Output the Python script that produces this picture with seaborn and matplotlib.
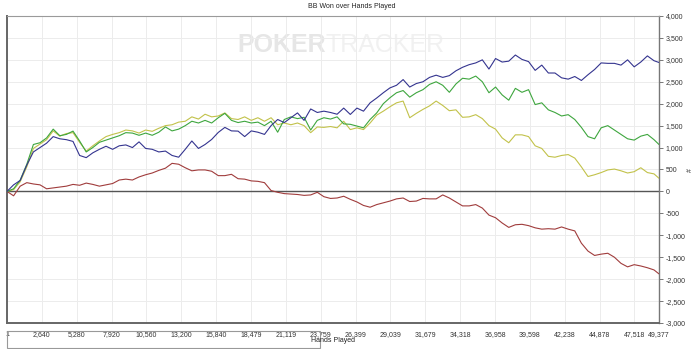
import numpy as np
import pandas as pd
import matplotlib
matplotlib.use("Agg")
import matplotlib.pyplot as plt
import seaborn as sns
from matplotlib.ticker import FixedLocator, FuncFormatter
from matplotlib.patches import Rectangle

hands = [1, 500, 1000, 1500, 2000, 2500, 3000, 3500, 4000, 4500,
         5000, 5500, 6000, 6500, 7000, 7500, 8000, 8500, 9000, 9500,
         10000, 10500, 11000, 11500, 12000, 12500, 13000, 13500, 14000, 14500,
         15000, 15500, 16000, 16500, 17000, 17500, 18000, 18500, 19000, 19500,
         20000, 20500, 21000, 21500, 22000, 22500, 23000, 23500, 24000, 24500,
         25000, 25500, 26000, 26500, 27000, 27500, 28000, 28500, 29000, 29500,
         30000, 30500, 31000, 31500, 32000, 32500, 33000, 33500, 34000, 34500,
         35000, 35500, 36000, 36500, 37000, 37500, 38000, 38500, 39000, 39500,
         40000, 40500, 41000, 41500, 42000, 42500, 43000, 43500, 44000, 44500,
         45000, 45500, 46000, 46500, 47000, 47500, 48000, 48500, 49000, 49377]

blue = [0, 150, 250, 600, 900, 1000, 1100, 1250, 1200, 1180,
        1140, 820, 770, 880, 960, 1030, 960, 1040, 1060, 1000,
        1130, 980, 960, 900, 920, 820, 780, 960, 1150, 980,
        1070, 1185, 1345, 1460, 1380, 1375, 1250, 1380, 1350, 1300,
        1500, 1640, 1570, 1680, 1790, 1620, 1880, 1800, 1830, 1800,
        1760, 1900, 1755, 1900, 1830, 2020, 2130, 2250, 2360, 2420,
        2550, 2380, 2460, 2500, 2600, 2650, 2600, 2640, 2750, 2830,
        2890, 2930, 3000, 2790, 3030, 2950, 2970, 3110, 3010, 2960,
        2760, 2880, 2700, 2700, 2590, 2560, 2620, 2530, 2660, 2780,
        2930, 2920, 2920, 2880, 3000, 2840, 2950, 3090, 2980, 2940]

green = [0, 60, 260, 620, 1070, 1110, 1220, 1420, 1270, 1300,
         1375, 1150, 900, 1000, 1120, 1170, 1220, 1270, 1340, 1330,
         1280, 1330, 1280, 1350, 1470, 1380, 1420, 1500, 1600, 1560,
         1620, 1560, 1680, 1780, 1620, 1570, 1600, 1560, 1580, 1500,
         1600, 1350, 1640, 1700, 1660, 1690, 1400, 1620, 1680, 1650,
         1700, 1540, 1530, 1490, 1450, 1640, 1790, 2000, 2135, 2250,
         2300, 2150, 2250, 2320, 2440, 2500, 2420, 2260, 2450, 2580,
         2560, 2630, 2500, 2250, 2380, 2200, 2080, 2350, 2260, 2320,
         1980, 2020, 1860, 1800, 1720, 1750, 1640, 1460, 1250, 1200,
         1450, 1500, 1400, 1300, 1200, 1170, 1260, 1300, 1180, 1070]

yellow = [0, 40, 220, 560, 980, 1080, 1180, 1380, 1260, 1320,
          1340, 1120, 920, 1040, 1150, 1250, 1300, 1340, 1400, 1380,
          1330, 1400, 1370, 1440, 1500, 1520, 1580, 1600, 1700, 1650,
          1760, 1700, 1720, 1790, 1660, 1640, 1700, 1620, 1680, 1600,
          1680, 1520, 1560, 1520, 1560, 1500, 1340, 1470, 1460, 1480,
          1450, 1600, 1410, 1450, 1410, 1560, 1740, 1830, 1930, 2020,
          2060, 1680, 1780, 1870, 1950, 2060, 1960, 1840, 1860, 1690,
          1700, 1750, 1660, 1500, 1420, 1220, 1110, 1290, 1290, 1250,
          1040, 980, 800, 780, 820, 840, 760, 560, 340, 380,
          430, 490, 510, 470, 420, 450, 540, 430, 400, 300]

red = [0, -100, 120, 200, 170, 150, 60, 80, 100, 120,
       160, 140, 190, 160, 120, 150, 180, 260, 280, 260,
       330, 380, 420, 480, 530, 640, 620, 540, 470, 490,
       490, 460, 360, 360, 390, 290, 280, 240, 230, 200,
       20, -20, -50, -60, -70, -90, -80, -20, -120, -160,
       -150, -110, -180, -240, -320, -360, -300, -260, -220, -170,
       -150, -230, -220, -160, -170, -170, -80, -150, -240, -330,
       -330, -300, -380, -540, -600, -720, -820, -760, -750, -780,
       -830, -860, -850, -860, -810, -860, -900, -1180, -1360, -1460,
       -1430, -1410, -1500, -1640, -1720, -1670, -1700, -1740, -1790, -1880]

series_names = ["red", "yellow", "green", "blue"]
series_colors = {"red": "#a03c3c", "yellow": "#c2c24a", "green": "#3ea63e", "blue": "#34348f"}

x_ticks = [1, 2640, 5280, 7920, 10560, 13200, 15840, 18479, 21119, 23759,
           26399, 29039, 31679, 34318, 36958, 39598, 42238, 44878, 47518, 49377]
y_ticks = [-3000, -2500, -2000, -1500, -1000, -500, 0, 500, 1000, 1500,
           2000, 2500, 3000, 3500, 4000]

df = pd.concat([
    pd.DataFrame({"hands": hands, "bb": vals, "series": name})
    for name, vals in zip(series_names, [red, yellow, green, blue])
], ignore_index=True)

sns.set_style("white")
plt.rcParams["font.family"] = ["Liberation Sans", "DejaVu Sans"]

fig = plt.figure(figsize=(7, 3.49), dpi=100)
ax = fig.add_axes([0.01, 0.0745, 0.9314, 0.8797])

# watermark
ax.text(326 / 700, 1 - 45 / 349, "POKER", transform=fig.transFigure, ha="right", va="center",
        fontsize=18, fontweight="bold", color="#e6e6e6", zorder=0)
ax.text(326 / 700, 1 - 45 / 349, "TRACKER", transform=fig.transFigure, ha="left", va="center",
        fontsize=18, color="#f1f1f1", zorder=0)

sns.lineplot(data=df, x="hands", y="bb", hue="series", hue_order=series_names,
             palette=series_colors, linewidth=0.8, legend=False, ax=ax, zorder=3)

ax.axhline(0, color="#555555", lw=1.0, zorder=2)

ax.set_xlim(1, 49377)
ax.set_ylim(-3000, 4000)
ax.xaxis.set_major_locator(FixedLocator(x_ticks))
ax.yaxis.set_major_locator(FixedLocator(y_ticks))
fmt = FuncFormatter(lambda v, p: f"{int(round(v)):,}")
ax.xaxis.set_major_formatter(fmt)
ax.yaxis.set_major_formatter(fmt)
ax.yaxis.tick_right()
ax.grid(True, color="#ececec", lw=0.7, zorder=0)
ax.set_axisbelow(True)

ax.tick_params(axis="both", labelsize=5, length=3, width=0.7, color="#777777",
               labelcolor="#333333", pad=2)
ax.tick_params(axis="x", pad=3)

for side in ["left", "bottom"]:
    ax.spines[side].set_color("#666666")
    ax.spines[side].set_linewidth(1.4)
ax.spines["top"].set_color("#9a9a9a")
ax.spines["top"].set_linewidth(0.8)
ax.spines["right"].set_color("#777777")
ax.spines["right"].set_linewidth(1.0)

ax.set_xlabel("")
ax.set_ylabel("")

fig.text(352 / 700, 1 - 6 / 349, "BB Won over Hands Played", ha="center", va="center",
         fontsize=5, color="#222222")
fig.text(333 / 700, 1 - 341 / 349, "Hands Played", ha="center", va="center",
         fontsize=5, color="#222222")
fig.text(690 / 700, 1 - 170 / 349, "#", ha="center", va="center", rotation=90,
         fontsize=5, color="#333333")

fig.add_artist(Rectangle((7 / 700, 1 - 348 / 349), 313 / 700, 0.05,
                         transform=fig.transFigure, fill=False, edgecolor="#999999",
                         lw=0.8, clip_on=False))

fig.savefig("out.png", dpi=100)
